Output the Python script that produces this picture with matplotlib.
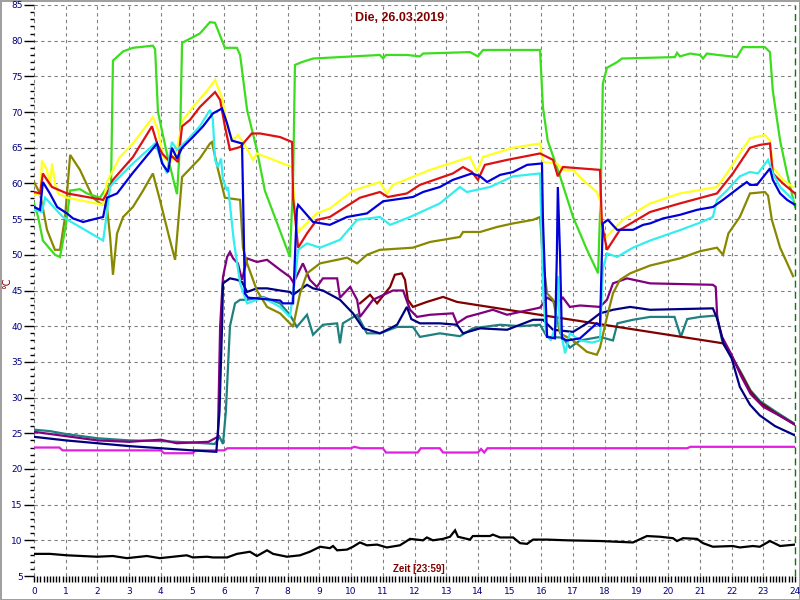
import matplotlib
matplotlib.use("Agg")
from matplotlib import pyplot as plt
from matplotlib.ticker import MultipleLocator

# hours / values, one pair of lists per sensor
green_t = [0, 0.13, 0.28, 0.66, 0.82, 0.98, 1.07, 1.14, 1.45, 1.67, 2.08, 2.3, 2.43, 2.49, 2.81, 3.12, 3.75, 3.82, 3.91, 4.2, 4.51, 4.6, 4.67, 5.23, 5.55, 5.71, 6.02, 6.4, 6.5, 6.72, 7.03, 7.28, 8.07, 8.17, 8.23, 8.45, 8.8, 10.91, 11.01, 11.1, 11.76, 12.17, 12.27, 13.75, 14.0, 14.16, 15.96, 16.05, 16.2, 16.59, 17.0, 17.44, 17.79, 17.88, 17.94, 18.07, 18.39, 18.54, 20.21, 20.28, 20.37, 20.69, 21.0, 21.1, 21.22, 21.57, 22.17, 22.36, 23.05, 23.21, 23.3, 23.53, 23.75, 24]
green_v = [57.2, 55.3, 52, 50, 49.7, 53.5, 56.3, 59, 59.2, 58.6, 58, 59.5, 60, 77.2, 78.5, 79, 79.3, 78.8, 70, 64, 58.5, 65, 79.7, 81, 82.6, 82.5, 79, 79, 78, 70.3, 64.7, 59, 49.7, 60, 76.6, 77, 77.5, 78, 77.5, 78, 78, 77.8, 78.2, 78.4, 77.8, 78.7, 78.7, 70.7, 66, 61, 55.3, 50.7, 47.4, 60, 74, 76.2, 77, 77.5, 77.7, 78.3, 77.8, 78.2, 78.0, 77.5, 78.2, 78, 77.7, 79.1, 79.1, 78.4, 73, 66, 61.4, 56.7]

yellow_t = [0, 0.2, 0.25, 0.41, 0.5, 0.57, 0.66, 0.76, 1.04, 2.18, 2.3, 2.71, 3.12, 3.75, 3.91, 4.07, 4.29, 4.45, 4.54, 4.7, 5.01, 5.46, 5.71, 5.93, 6.12, 6.28, 6.43, 6.59, 6.91, 7.03, 8.14, 8.2, 8.33, 8.39, 8.92, 9.33, 10.06, 10.91, 11.13, 11.32, 12.49, 13.75, 13.97, 14.16, 15.11, 15.96, 16.05, 16.49, 16.68, 17.0, 17.31, 17.75, 17.85, 17.94, 18.16, 18.57, 19.43, 20.37, 21.54, 21.85, 22.26, 22.58, 23.05, 23.21, 23.3, 23.62, 23.94]
yellow_v = [58.4, 58.4, 63.2, 61.9, 59.5, 62.8, 60, 58.6, 58, 57, 60.2, 63.7, 65.6, 69.3, 67.5, 63.7, 62.8, 64, 65.6, 68.9, 70.7, 73, 74.5, 72, 67.5, 66, 66.8, 65.8, 63.3, 64.2, 62.3, 58, 53, 53.5, 55.8, 56.5, 59, 60.2, 58.6, 59.8, 61.9, 63.7, 61.6, 63.7, 65, 65.6, 63, 62.8, 61.9, 61.9, 60.5, 58.8, 57.6, 52, 53, 54.9, 57.2, 58.6, 59.5, 61.4, 64.2, 66.3, 66.8, 66, 62.3, 60.5, 59.5]

red_t = [0, 0.19, 0.28, 0.41, 0.57, 1.04, 2.18, 2.3, 2.49, 3.12, 3.72, 3.88, 4.04, 4.23, 4.35, 4.54, 4.67, 4.92, 5.23, 5.71, 5.87, 6.02, 6.18, 6.5, 6.87, 7.13, 7.76, 8.14, 8.17, 8.33, 8.61, 8.92, 9.33, 10.28, 10.91, 11.16, 11.76, 12.17, 13.21, 13.53, 13.81, 14.0, 14.22, 14.92, 15.96, 16.37, 16.52, 16.68, 17.85, 17.91, 18.07, 18.48, 19.43, 20.37, 21.54, 22.04, 22.58, 22.89, 23.21, 23.3, 23.62, 24]
red_v = [58.8, 58.6, 61.4, 60.5, 59.5, 58.6, 57.7, 58.6, 60.5, 63.7, 68, 65.6, 64.2, 63.3, 63.8, 63, 68, 68.9, 70.7, 72.8, 71.7, 68, 64.7, 65.1, 67, 67, 66.5, 65.8, 58.1, 51, 53, 54.9, 55.3, 58, 58.8, 58.1, 58.6, 59.8, 61.4, 62.3, 61.6, 60.5, 62.6, 63.3, 64.2, 63.3, 61, 62.3, 61.9, 54.4, 50.7, 53.5, 56, 57.2, 58.6, 61.4, 65, 65.4, 65.6, 61.4, 60, 58.6]

cyan_t = [0, 0.25, 0.35, 0.91, 2.18, 2.24, 2.4, 2.49, 3.12, 3.82, 4.19, 4.35, 4.51, 4.82, 5.23, 5.55, 5.64, 5.71, 5.8, 5.9, 5.96, 6.09, 6.12, 6.3, 6.5, 6.72, 7.22, 7.76, 8.07, 8.23, 8.33, 8.61, 9.02, 9.65, 10.19, 10.91, 11.23, 11.86, 12.8, 13.43, 13.65, 14.38, 15.11, 15.96, 16.05, 16.15, 16.3, 16.45, 16.52, 16.58, 16.75, 16.9, 17.22, 17.6, 17.85, 17.94, 18.07, 18.39, 18.89, 19.43, 20.4, 21.0, 21.41, 21.54, 21.85, 22.26, 22.58, 22.83, 23.15, 23.3, 23.53, 23.94]
cyan_v = [56.3, 56, 58, 55.3, 52, 53.9, 59.5, 60, 62.8, 65.6, 61.4, 65.8, 64.7, 66, 68, 70.3, 69, 63.3, 62.3, 63.5, 60.5, 59, 59.5, 52, 46, 43.2, 44, 42.7, 41.3, 46.5, 50.7, 51.6, 51, 52.1, 54.9, 55.3, 54.2, 55.3, 57.2, 59.5, 58.8, 59.5, 61, 61.4, 45, 39, 38, 40, 47, 40, 36.2, 39, 38, 37.7, 38, 48, 50.2, 49.7, 51, 52, 53.5, 54.5, 55.3, 57.7, 59, 61, 61.6, 61.4, 63.3, 61.4, 59.5, 57.7]

blue_t = [0, 0.19, 0.28, 0.5, 0.73, 1.04, 1.23, 1.55, 1.99, 2.18, 2.3, 2.62, 3.12, 3.88, 4.04, 4.23, 4.35, 4.51, 4.67, 5.01, 5.33, 5.64, 5.93, 6.09, 6.24, 6.56, 6.59, 6.65, 6.75, 7.76, 7.85, 8.17, 8.29, 8.33, 8.8, 9.33, 9.87, 10.5, 11.01, 11.95, 12.27, 12.8, 13.21, 13.81, 14.07, 14.29, 14.7, 15.11, 15.55, 16.02, 16.05, 16.18, 16.43, 16.49, 16.52, 16.59, 16.65, 16.81, 17.22, 17.75, 17.85, 17.91, 17.94, 18.1, 18.39, 18.89, 19.21, 19.43, 19.84, 20.37, 20.91, 21.41, 21.73, 22.26, 22.48, 22.58, 22.8, 23.21, 23.3, 23.53, 23.75, 24]
blue_v = [56.7, 56.3, 60.2, 58.6, 56.7, 55.8, 55.1, 54.6, 55.1, 55.3, 58, 58.6, 61.5, 65.6, 62.8, 61.6, 65, 63.5, 65, 66.5, 68, 69.8, 70.5, 68.4, 66, 65.6, 59, 44.6, 44, 43.6, 43.2, 43.2, 56.3, 57, 54.6, 54.2, 55.3, 55.8, 57.5, 58.1, 58.8, 59.5, 60.5, 61.4, 61, 60.2, 61.2, 61.6, 62.6, 62.8, 55, 38.5, 38.3, 50, 59.5, 50, 38.3, 38, 38.3, 40.4, 40, 50, 54.4, 54.9, 53.5, 53.5, 54.2, 54.4, 55.1, 55.6, 56.3, 56.7, 57.7, 59.5, 60.2, 59.8, 59.8, 62.1, 60.5, 58.6, 57.7, 57]

olive_t = [0, 0.19, 0.41, 0.66, 0.82, 0.98, 1.14, 1.45, 1.86, 2.08, 2.3, 2.4, 2.49, 2.62, 2.81, 3.12, 3.44, 3.75, 3.97, 4.29, 4.45, 4.67, 5.23, 5.55, 5.61, 5.8, 6.02, 6.5, 6.59, 6.72, 7.03, 7.35, 7.76, 8.07, 8.17, 8.39, 8.61, 9.02, 9.56, 9.87, 10.19, 10.5, 10.91, 11.95, 12.49, 13.43, 13.53, 14.07, 14.6, 15.11, 15.74, 15.96, 16.05, 16.18, 16.37, 16.59, 17.0, 17.44, 17.75, 17.85, 18.07, 18.26, 18.48, 18.8, 19.43, 20.37, 21.0, 21.54, 21.73, 21.9, 22.26, 22.58, 23.05, 23.15, 23.27, 23.53, 23.94]
olive_v = [60.2, 58.6, 53.5, 50.7, 50.7, 55.3, 64, 61.9, 58, 57.2, 56.8, 52.5, 47.2, 53, 55.3, 56.7, 59, 61.4, 57.7, 52, 49.3, 60.9, 63.5, 65.6, 65.8, 62, 58, 57.7, 51, 48.8, 45, 42.7, 41.8, 40.4, 39.9, 44.6, 47.4, 48.8, 49.3, 49.6, 48.8, 50, 50.7, 51, 51.8, 52.5, 53.2, 53.2, 53.9, 54.4, 54.9, 55.3, 49.3, 44.6, 43.7, 39, 38, 36.4, 36, 37, 41.3, 44.6, 46.5, 47.4, 48.5, 49.5, 50.5, 51, 50, 53, 55.3, 58.6, 58.8, 58.3, 54.9, 51, 47]

purple_t = [0, 1, 2, 3, 4, 4.5, 5.5, 5.8, 5.87, 5.96, 6.09, 6.18, 6.28, 6.43, 6.56, 6.72, 7.03, 7.35, 7.76, 8.07, 8.17, 8.23, 8.48, 8.7, 8.92, 9.11, 9.56, 9.65, 9.97, 10.19, 10.28, 10.69, 11.32, 11.64, 11.86, 12.08, 12.49, 13.21, 13.34, 13.65, 14.07, 14.47, 14.92, 15.33, 15.96, 16.18, 16.49, 16.68, 16.9, 17.22, 17.85, 18.07, 18.26, 18.7, 19.43, 21.41, 21.5, 21.55, 21.7, 22.0, 22.3, 22.6, 23.0, 23.5, 24]
purple_v = [25.2, 24.6, 24.0, 23.8, 24.1, 23.6, 23.8, 24.5, 40, 46.9, 49.7, 50.4, 49.5, 48.8, 46.5, 49.5, 49, 49.3, 47.9, 46.9, 46.2, 46.5, 48.8, 46.5, 45.5, 46.7, 46.7, 44, 45.5, 43.7, 41.3, 43.7, 45, 45, 42.3, 41.3, 41.6, 41.8, 40.4, 41.3, 41.8, 42.3, 41.6, 42, 42.6, 44, 43.2, 44, 42.7, 42.9, 42.7, 43.7, 46, 46.7, 46, 45.8, 45.5, 41, 38.5, 36, 33, 30.5, 28.7, 27.5, 26.2]

navy_t = [0, 1, 2, 3, 4, 5, 5.75, 5.85, 5.93, 5.96, 6.18, 6.4, 6.56, 6.72, 7.03, 7.35, 7.76, 8.07, 8.17, 8.61, 8.8, 9.11, 9.65, 10.06, 10.38, 10.91, 11.23, 11.45, 11.76, 11.9, 12.17, 12.8, 13.34, 13.53, 14.07, 14.92, 15.74, 16.05, 16.37, 17.0, 17.44, 17.85, 18.26, 18.8, 19.43, 21.41, 21.55, 21.75, 22.0, 22.26, 22.58, 22.89, 23.37, 24]
navy_v = [24.5, 24.0, 23.6, 23.2, 22.9, 22.6, 22.4, 28, 40, 46, 46.7, 46.5, 46.2, 44.8, 45.3, 45.3, 45, 44.8, 44.4, 45.8, 45.3, 45, 43.7, 41.8, 39.7, 39, 39.7, 40.2, 42.7, 41, 40.4, 40.4, 40.2, 39, 39.7, 39.5, 40.9, 40.9, 39.5, 39.2, 40.4, 41.8, 42.3, 42.7, 42.3, 42.5, 41, 37.5, 35.5, 31.5, 29, 27.5, 26, 24.7]

teal_t = [0, 0.5, 1, 1.5, 2, 3, 4, 5, 5.7, 5.85, 5.96, 6.05, 6.18, 6.34, 6.5, 6.72, 7.22, 7.76, 8.07, 8.29, 8.61, 8.8, 9.11, 9.56, 9.65, 9.74, 10.19, 10.5, 10.91, 11.45, 11.95, 12.17, 12.8, 13.43, 13.84, 14.7, 15.33, 15.96, 16.18, 16.68, 16.9, 17.22, 17.85, 18.26, 18.4, 18.89, 19.43, 20.2, 20.4, 20.6, 21.0, 21.54, 21.7, 22.0, 22.3, 22.6, 22.9, 23.4, 24]
teal_v = [25.5, 25.3, 24.9, 24.6, 24.3, 24.0, 23.9, 23.7, 23.5, 24.5, 23.5, 28, 40, 43.2, 43.7, 43.7, 44.1, 43.2, 41.6, 39.9, 41.6, 38.8, 40.2, 40.4, 37.6, 40.4, 41.6, 39, 39, 39.9, 39.9, 38.5, 39, 38.6, 39.7, 40.2, 40, 40.2, 38.5, 38.4, 37, 38, 38.5, 38, 40.4, 40.9, 41.3, 41.3, 38.5, 41, 41.3, 41.5, 38, 35.8, 33.5, 31, 29.5, 28, 26.3]

maroon_t = [10.28, 10.6, 10.82, 11.23, 11.38, 11.6, 11.7, 11.79, 11.95, 12.39, 12.9, 13.34, 21.73, 22.0, 22.3, 22.6, 22.9, 23.4, 24]
maroon_v = [43.2, 44.4, 43.2, 45.5, 47.2, 47.4, 46.5, 43.7, 42.7, 43.4, 44.1, 43.4, 37.6, 35.8, 33.3, 30.8, 29.3, 27.8, 26.2]

magenta_t = [0, 0.8, 0.9, 4.0, 4.1, 5.0, 5.1, 6.0, 6.1, 10.0, 10.1, 10.3, 11.0, 11.1, 12.1, 12.2, 12.8, 12.9, 14.0, 14.1, 14.2, 14.3, 20.6, 20.7, 24]
magenta_v = [23.0, 23.0, 22.6, 22.6, 22.2, 22.2, 22.6, 22.6, 22.9, 22.9, 23.1, 22.9, 22.9, 22.3, 22.3, 22.9, 22.9, 22.3, 22.3, 22.8, 22.3, 22.9, 22.9, 23.1, 23.1]

black_t = [0, 0.5, 1.04, 1.99, 2.49, 2.93, 3.56, 3.97, 4.6, 4.82, 5.01, 5.46, 5.64, 6.09, 6.4, 6.81, 7.03, 7.35, 7.54, 7.98, 8.39, 8.7, 9.02, 9.33, 9.43, 9.56, 9.87, 10.06, 10.28, 10.5, 10.82, 11.13, 11.54, 11.86, 12.27, 12.39, 12.58, 12.9, 13.12, 13.28, 13.37, 13.75, 13.84, 14.38, 14.47, 14.7, 15.11, 15.33, 15.55, 15.74, 16.18, 16.81, 17.85, 18.89, 19.33, 19.74, 20.15, 20.28, 20.47, 20.91, 21.1, 21.41, 22.04, 22.26, 22.67, 22.89, 23.21, 23.53, 24]
black_v = [8.1, 8.1, 7.9, 7.7, 7.8, 7.5, 7.8, 7.5, 7.8, 7.9, 7.6, 7.7, 7.6, 7.6, 8.1, 8.4, 7.8, 8.6, 8.1, 7.7, 7.9, 8.4, 9.1, 8.9, 9.2, 8.6, 8.7, 9.1, 9.7, 9.3, 9.4, 9.0, 9.3, 10.2, 10.0, 10.4, 10.0, 10.2, 10.5, 11.4, 10.5, 10.1, 10.6, 10.6, 10.8, 10.4, 10.4, 9.6, 9.5, 10.1, 10.1, 10.0, 9.9, 9.7, 10.6, 10.5, 10.3, 9.9, 10.3, 10.2, 9.6, 9.1, 9.2, 9.0, 9.2, 9.1, 9.9, 9.2, 9.4]

title = 'Die, 26.03.2019'
xlabel = 'Zeit [23:59]'
ylabel = '°C'
dark_red = '#800000'
label_blue = '#000080'

series = [
    (black_t, black_v, '#000000'),
    (magenta_t, magenta_v, '#e020e0'),
    (teal_t, teal_v, '#1f8080'),
    (maroon_t, maroon_v, '#800000'),
    (purple_t, purple_v, '#800080'),
    (navy_t, navy_v, '#000080'),
    (olive_t, olive_v, '#888800'),
    (green_t, green_v, '#3cdc1e'),
    (yellow_t, yellow_v, '#ffff22'),
    (red_t, red_v, '#dd1111'),
    (cyan_t, cyan_v, '#33eeee'),
    (blue_t, blue_v, '#0000d8'),
]

fig = plt.figure(figsize=(8, 6), dpi=100)
fig.patch.set_edgecolor('#a0a0a0')
fig.patch.set_linewidth(2)
ax = fig.add_axes([34 / 800, 24 / 600, 761 / 800, 571 / 600])

for t, v, c in series:
    ax.plot(t, v, color=c, linewidth=1.6, solid_joinstyle='miter')

ax.set_xlim(0, 24)
ax.set_ylim(5, 85)
ax.xaxis.set_major_locator(MultipleLocator(1))
ax.xaxis.set_minor_locator(MultipleLocator(0.1))
ax.yaxis.set_major_locator(MultipleLocator(5))
ax.yaxis.set_minor_locator(MultipleLocator(1))

# light dashed grid, no frame
ax.grid(True, which='major', color='#808080', linestyle=(0, (3, 3)), linewidth=0.8)
ax.set_axisbelow(True)
for s in ax.spines.values():
    s.set_visible(False)

ax.tick_params(axis='y', which='major', length=7, width=1, pad=1,
               labelsize=6.5, labelcolor=label_blue)
ax.tick_params(axis='y', which='minor', length=3, width=1)
ax.tick_params(axis='x', which='both', length=4, width=1, pad=4,
               labelsize=6.5, labelcolor=label_blue)

# "now" marker on the right edge
ax.axvline(24, color='#008000', linestyle=(0, (5, 3)), linewidth=1, clip_on=False)

fig.text(0.5, 1 - 18 / 600, title, color=dark_red, fontsize=9, fontweight='bold',
         ha='center', va='center', family='Liberation Sans')
fig.text(419 / 800, 1 - 569 / 600, xlabel, color=dark_red, fontsize=7, fontweight='bold',
         ha='center', va='center', family='Liberation Sans')
fig.text(7 / 800, 1 - 283 / 600, ylabel, color=dark_red, fontsize=7, rotation=90,
         ha='center', va='center')

plt.savefig('out.png', dpi=100)
